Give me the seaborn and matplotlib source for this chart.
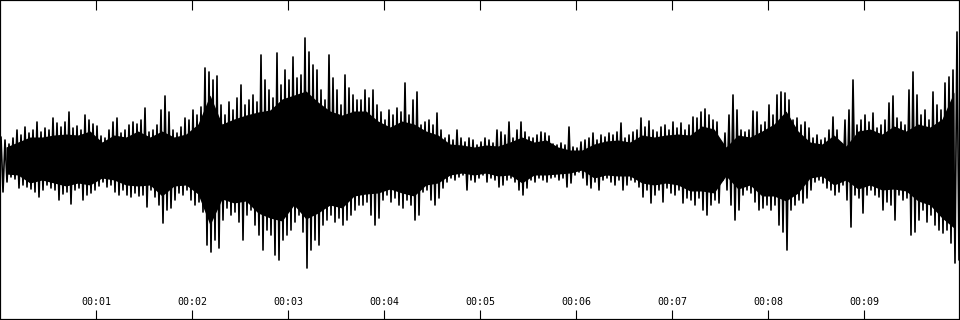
import numpy as np
import pandas as pd
import matplotlib
matplotlib.use("Agg")
import matplotlib.pyplot as plt
import matplotlib.transforms as mtransforms
import seaborn as sns

# ---- data (amplitude units, full scale = 160) ----
duration_s = 10
tick_seconds = [1, 2, 3, 4, 5, 6, 7, 8, 9]
tick_labels = ["00:01", "00:02", "00:03", "00:04", "00:05",
               "00:06", "00:07", "00:08", "00:09"]

# positive peak per slice (24 slices per second)
peak_top = [
    23, 20, 16, 22, 30, 25, 33, 27, 30, 38, 28, 32, 30, 42, 37, 33, 38, 48, 32, 34, 30, 45, 40, 36, 34, 24, 22, 30, 38, 42,
    27, 30, 35, 38, 36, 40, 52, 28, 30, 35, 50, 64, 48, 30, 27, 33, 42, 40, 50, 45, 53, 92, 88, 80, 84, 55, 45, 58, 50, 62,
    75, 55, 60, 65, 58, 105, 80, 70, 62, 107, 75, 90, 80, 103, 82, 85, 122, 108, 95, 90, 70, 60, 105, 82, 70, 55, 85, 72, 65, 60,
    60, 70, 62, 70, 55, 48, 40, 50, 45, 52, 48, 77, 45, 60, 68, 35, 38, 40, 35, 47, 30, 22, 25, 20, 30, 22, 18, 22, 20, 15,
    18, 22, 20, 17, 30, 28, 25, 38, 22, 30, 38, 28, 23, 22, 25, 28, 27, 24, 16, 15, 17, 15, 33, 13, 12, 18, 20, 22, 27, 20,
    25, 23, 27, 25, 28, 37, 22, 25, 28, 30, 42, 33, 39, 30, 28, 33, 35, 30, 38, 32, 37, 30, 35, 43, 42, 48, 51, 45, 40, 38,
    15, 27, 45, 65, 50, 30, 28, 30, 49, 48, 35, 38, 55, 45, 65, 68, 67, 60, 40, 42, 35, 38, 32, 22, 25, 20, 22, 30, 43, 30,
    17, 40, 50, 80, 35, 40, 45, 38, 47, 32, 35, 40, 57, 64, 42, 38, 35, 70, 88, 65, 45, 50, 40, 68, 55, 50, 77, 83, 90, 128,
]
# negative peak per slice (magnitude)
peak_bottom = [
    32, 22, 17, 19, 28, 25, 27, 29, 32, 37, 30, 25, 28, 30, 40, 34, 32, 44, 30, 28, 40, 35, 33, 30, 26, 22, 27, 25, 32, 35,
    30, 35, 37, 33, 36, 35, 47, 30, 37, 45, 63, 50, 48, 40, 33, 35, 30, 40, 45, 42, 52, 85, 92, 80, 88, 60, 48, 55, 52, 62,
    80, 55, 50, 65, 75, 90, 70, 75, 95, 100, 80, 75, 70, 62, 55, 72, 108, 90, 80, 85, 65, 60, 55, 62, 58, 65, 60, 55, 50, 45,
    45, 42, 55, 65, 58, 40, 35, 42, 38, 45, 48, 40, 45, 60, 55, 32, 30, 40, 45, 38, 28, 22, 18, 20, 17, 15, 30, 20, 22, 18,
    15, 22, 18, 20, 27, 25, 20, 18, 22, 30, 35, 28, 20, 22, 18, 20, 22, 18, 17, 20, 18, 27, 23, 15, 12, 18, 25, 28, 22, 30,
    20, 18, 22, 25, 20, 30, 25, 20, 22, 27, 37, 30, 43, 35, 30, 42, 28, 33, 35, 30, 43, 38, 40, 45, 38, 50, 55, 45, 40, 43,
    20, 30, 45, 60, 50, 35, 30, 33, 42, 50, 48, 45, 50, 45, 65, 72, 90, 50, 45, 40, 43, 38, 30, 22, 20, 23, 28, 30, 35, 32,
    25, 40, 67, 35, 38, 53, 35, 30, 35, 37, 50, 42, 45, 60, 35, 40, 38, 75, 72, 60, 50, 62, 55, 65, 70, 73, 70, 83, 103, 100,
]
# solid inner core, upper and lower edge (8 readings per second)
core_top = [
    13, 18, 23, 23, 25, 26, 25, 29, 18, 25,
    23, 29, 23, 29, 23, 26, 36, 65, 36, 41,
    45, 48, 50, 61, 65, 69, 58, 49, 45, 49,
    49, 39, 33, 39, 36, 29, 25, 16, 15, 13,
    15, 14, 18, 23, 18, 20, 13, 10, 10, 16,
    19, 20, 18, 25, 23, 25, 26, 25, 34, 31,
    13, 25, 23, 29, 36, 49, 29, 18, 16, 25,
    14, 29, 31, 26, 34, 29, 36, 33, 41, 68,
]
core_bottom = [
    14, 15, 23, 20, 23, 26, 23, 25, 18, 20,
    25, 26, 25, 36, 26, 25, 34, 65, 39, 43,
    41, 53, 58, 61, 45, 59, 53, 45, 48, 36,
    34, 33, 29, 33, 36, 25, 23, 15, 13, 15,
    13, 16, 15, 23, 15, 15, 14, 13, 10, 18,
    15, 16, 16, 23, 25, 23, 25, 31, 31, 33,
    16, 29, 25, 36, 36, 41, 33, 18, 16, 25,
    20, 29, 25, 30, 29, 31, 41, 45, 58, 68,
]

# ---- figure ----
sns.set_theme(style="white")
plt.rcParams["font.family"] = ["DejaVu Sans Mono", "DejaVu Sans"]

n = len(peak_top)
slice_w = duration_s / n
t = (np.arange(n) + 0.5) * slice_w
m = len(core_top)
t_core = (np.arange(m) + 0.5) * duration_s / m

# waveform trace: each slice swings from its positive to its negative peak
trace = pd.DataFrame({
    "t": np.column_stack([t - slice_w / 4, t + slice_w / 4]).ravel(),
    "amp": np.column_stack([np.array(peak_top, float),
                            -np.array(peak_bottom, float)]).ravel(),
})

fig = plt.figure(figsize=(9.6, 3.2), dpi=100)
ax = fig.add_axes([0, 0, 1, 1])

ax.fill_between(t_core, -np.array(core_bottom, float),
                np.array(core_top, float), color="black", linewidth=0)
sns.lineplot(data=trace, x="t", y="amp", sort=False, estimator=None,
             color="black", linewidth=1.2, ax=ax)

ax.set_xlim(0, duration_s)
ax.set_ylim(-160, 160)
ax.set_xlabel("")
ax.set_ylabel("")
ax.set_yticks([])
ax.set_xticks(tick_seconds)
ax.tick_params(axis="x", which="both", direction="in", length=7, width=0.8,
               color="black", top=True, bottom=True,
               labelbottom=False, labeltop=False)

trans = mtransforms.blended_transform_factory(ax.transData, ax.transAxes)
for s, lab in zip(tick_seconds, tick_labels):
    ax.text(s, 0.056, lab, transform=trans, ha="center", va="center",
            fontsize=7.2, color="black")

for sp in ax.spines.values():
    sp.set_visible(True)
    sp.set_color("black")
    sp.set_linewidth(1.6)

ax.set_facecolor("white")
fig.savefig("out.png", dpi=100, facecolor="white")
